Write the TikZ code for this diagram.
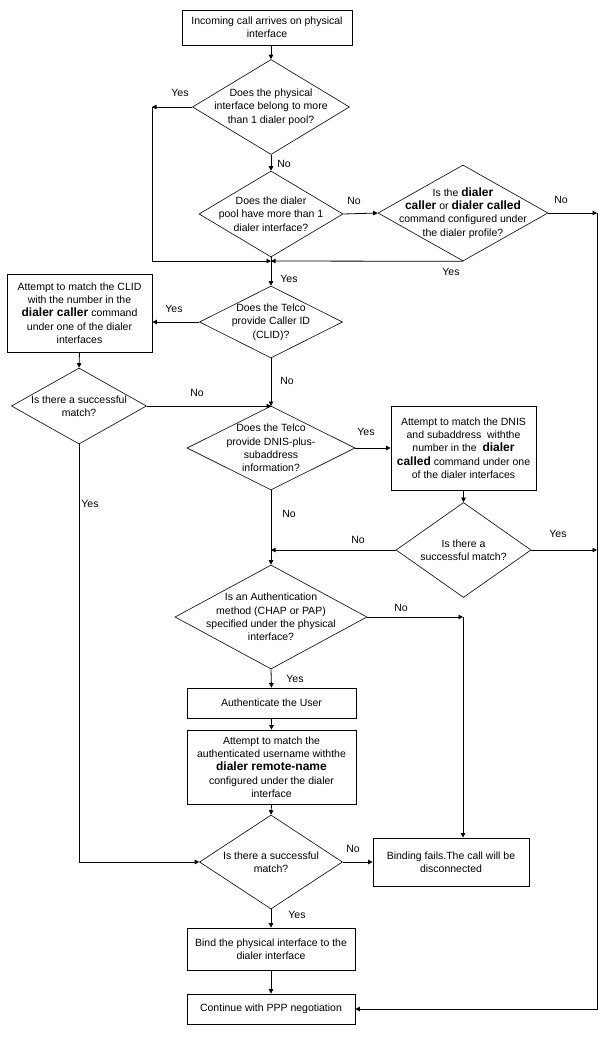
\documentclass[tikz,border=0pt]{standalone}
\usepackage{fontspec}
\setmainfont{Liberation Sans}
\usetikzlibrary{shapes.geometric,arrows.meta}
\newcommand{\bigbold}[1]{{\fontsize{12}{13.3}\selectfont\bfseries #1}}
\begin{document}
\begin{tikzpicture}[x=1pt,y=-1pt,
  every node/.style={font=\fontsize{10.5}{13.3}\selectfont},
  box/.style={draw,line width=0.8pt,rectangle,inner sep=0pt,align=center},
  dia/.style={draw,line width=0.6pt,diamond,inner sep=0pt},
  txt/.style={align=center,inner sep=0pt},
  lbl/.style={inner sep=0pt},
  arr/.style={line width=0.8pt,-{Triangle[length=4.5pt,width=4.5pt]}},
  ln/.style={line width=0.8pt}]
\useasboundingbox (0,0) rectangle (611,1037);
% boxes
\node[box,minimum width=170pt,minimum height=35pt] (b1) at (267,27.5) {Incoming call arrives on physical\\interface};
\node[box,minimum width=145pt,minimum height=78pt] (clid) at (79.5,313) {Attempt to match the CLID\\with the number in the\\\bigbold{dialer caller} command\\under one of the dialer\\interfaces};
\node[box,minimum width=145pt,minimum height=84pt] (dnis) at (463.5,448) {Attempt to match the DNIS\\and subaddress\ \ withthe\\number in the\ \ \bigbold{dialer}\\\bigbold{called} command under one\\of the dialer interfaces};
\node[box,minimum width=169pt,minimum height=30pt] (auth) at (271.5,703) {Authenticate the User};
\node[box,minimum width=169pt,minimum height=74pt] (rem) at (271.5,767) {Attempt to match the\\authenticated username withthe\\\bigbold{dialer remote-name}\\configured under the dialer\\interface};
\node[box,minimum width=156pt,minimum height=48pt] (fail) at (451,862) {Binding fails.The call will be\\disconnected};
\node[box,minimum width=168pt,minimum height=42pt] (bind) at (271,949) {Bind the physical interface to the\\dialer interface};
\node[box,minimum width=168pt,minimum height=30pt] (cont) at (271,1009) {Continue with PPP negotiation};
% diamonds
\node[dia,minimum width=157pt,minimum height=95pt] (d1) at (271,107) {};
\node[txt] at (d1) {Does the physical\\interface belong to more\\than 1 dialer pool?};
\node[dia,minimum width=144pt,minimum height=86pt] (d2) at (271,214) {};
\node[txt] at (d2) {Does the dialer\\pool have more than 1\\dialer interface?};
\node[dia,minimum width=170pt,minimum height=96pt] (d3) at (463,213) {};
\node[txt] at (d3) {Is the \bigbold{dialer}\\\bigbold{caller} or \bigbold{dialer called}\\command configured under\\the dialer profile?};
\node[dia,minimum width=143pt,minimum height=72pt] (d4) at (271,322) {};
\node[txt] at (d4) {Does the Telco\\provide Caller ID\\(CLID)?};
\node[dia,minimum width=135pt,minimum height=76pt] (d5) at (79,406) {};
\node[txt] at (d5) {Is there a successful\\match?};
\node[dia,minimum width=168pt,minimum height=84pt] (d6) at (271,448) {};
\node[txt] at (d6) {Does the Telco\\provide DNIS-plus-\\subaddress\\information?};
\node[dia,minimum width=135pt,minimum height=95pt] (d7) at (463.5,550) {};
\node[txt] at (d7) {Is there a\\successful match?};
\node[dia,minimum width=192pt,minimum height=104pt] (d8) at (271,617) {};
\node[txt] at (d8) {Is an Authentication\\method (CHAP or PAP)\\specified under the physical\\interface?};
\node[dia,minimum width=143pt,minimum height=94pt] (d9) at (271,862) {};
\node[txt] at (d9) {Is there a successful\\match?};
% junction coordinates
\coordinate (ya) at (152,107);
\coordinate (m1) at (271,261);
\coordinate (r1) at (597,213);
\coordinate (m2) at (271,406);
\coordinate (r2) at (597,550);
\coordinate (m3) at (271,550);
\coordinate (r3) at (463,617);
% connectors
\draw[arr] (b1.south -| d1.north) -- (d1.north);
\draw[arr] (d1.west) -- (ya);
\draw[arr] (ya) |- (m1);
\draw[arr] (d1.south) -- (d2.north);
\draw[arr] (d2.east) -- (d3.west);
\draw[arr] (d3.east) -- (r1);
\draw[arr] (d3.south) -- (m1);
\draw[ln] (d2.south) -- (m1);
\draw[arr] (m1) -- (d4.north);
\draw[arr] (d4.west) -- (d4.west -| clid.east);
\draw[arr] (clid.south) -- (d5.north);
\draw[arr] (d5.east) -- (m2);
\draw[arr] (d4.south) -- (m2);
\draw[ln] (m2) -- (d6.north);
\draw[arr] (d6.east) -- (dnis.west);
\draw[arr] (dnis.south) -- (d7.north);
\draw[arr] (d7.east) -- (r2);
\draw[arr] (d7.west) -- (m3);
\draw[ln] (d6.south) -- (m3);
\draw[arr] (m3) -- (d8.north);
\draw[arr] (d8.east) -- (r3);
\draw[arr] (r3) -- (r3 |- fail.north);
\draw[arr] (d8.south) -- (auth.north);
\draw[arr] (auth.south) -- (rem.north);
\draw[arr] (rem.south) -- (d9.north);
\draw[arr] (d5.south) |- (d9.west);
\draw[arr] (d9.east) -- (fail.west);
\draw[arr] (d9.south) -- (bind.north);
\draw[arr] (bind.south) -- (cont.north);
\draw[arr] (r1) |- (cont.east);
% labels
\node[lbl] at (180,93) {Yes};
\node[lbl] at (284,164) {No};
\node[lbl] at (354,201) {No};
\node[lbl] at (561,200) {No};
\node[lbl] at (451,272) {Yes};
\node[lbl] at (289,279) {Yes};
\node[lbl] at (174,309) {Yes};
\node[lbl] at (197,393) {No};
\node[lbl] at (287,381) {No};
\node[lbl] at (366,432) {Yes};
\node[lbl] at (289,514) {No};
\node[lbl] at (558,534) {Yes};
\node[lbl] at (358,540) {No};
\node[lbl] at (401,608) {No};
\node[lbl] at (295,679) {Yes};
\node[lbl] at (90,504) {Yes};
\node[lbl] at (353,849) {No};
\node[lbl] at (297,915) {Yes};
\end{tikzpicture}
\end{document}
